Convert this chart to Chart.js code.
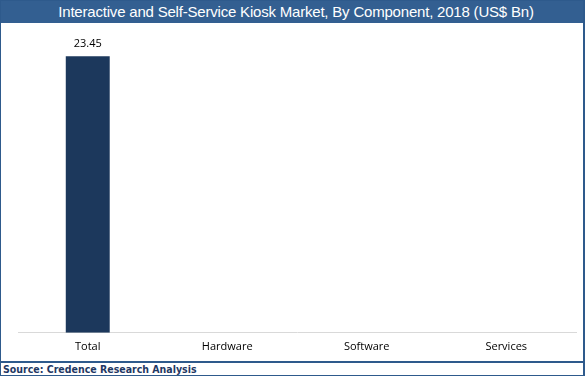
<!DOCTYPE html>
<html>
<head>
<meta charset="utf-8">
<script src="https://cdn.jsdelivr.net/npm/chart.js@4.4.1/dist/chart.umd.min.js"></script>
<style>
  body { margin: 0; background: #fff; }
  #frame { position: absolute; left: 0; top: 0; width: 585px; height: 376px; box-sizing: border-box; border: 1px solid #2E5A8C; border-right-width: 2px; }
  #title { height: 22px; background: #335F91; color: #fff; font: 15px "Liberation Sans", Arial, sans-serif; text-align: center; line-height: 22px; letter-spacing: -0.2px; padding-left: 8px; }
  #chartBox { position: relative; width: 582px; height: 338px; }
  #footer { border-top: 2px solid #2E5A8C; height: 12px; color: #1F3864; font: bold 10.5px "DejaVu Sans Condensed", "DejaVu Sans", sans-serif; line-height: 13px; padding-left: 2px; }
</style>
</head>
<body>
<div id="frame">
  <div id="title">Interactive and Self-Service Kiosk Market, By Component, 2018 (US$ Bn)</div>
  <div id="chartBox"><canvas id="kioskChart"></canvas></div>
  <div id="footer">Source: Credence Research Analysis</div>
</div>
<script>
const categories = ['Total', 'Hardware', 'Software', 'Services'];
const marketValues = [23.45, null, null, null];

const barLabels = {
    id: 'barLabels',
    afterDatasetsDraw(chart) {
        const { ctx } = chart;
        const meta = chart.getDatasetMeta(0);
        ctx.save();
        ctx.fillStyle = '#000';
        ctx.font = '11px "Open Sans", sans-serif';
        ctx.textAlign = 'center';
        ctx.textBaseline = 'bottom';
        meta.data.forEach((bar, i) => {
            const v = marketValues[i];
            if (v === null) return;
            ctx.fillText(v.toFixed(2), bar.x, bar.y - 7);
        });
        ctx.restore();
    }
};

const ctx = document.querySelector('#kioskChart').getContext('2d');
new Chart(ctx, {
    type: 'bar',
    data: {
        labels: categories,
        datasets: [{
            label: 'US$ Bn',
            data: marketValues,
            backgroundColor: '#1C385C',
            categoryPercentage: 0.315,
            barPercentage: 1
        }]
    },
    options: {
        responsive: true,
        maintainAspectRatio: false,
        animation: false,
        layout: { padding: { left: 17, right: 7, top: 15, bottom: 9 } },
        plugins: {
            legend: { display: false },
            tooltip: { enabled: false }
        },
        scales: {
            x: {
                grid: { display: false },
                border: { color: '#D9D9D9', width: 1 },
                ticks: { color: '#000', font: { family: 'Open Sans', size: 11 }, padding: -1 }
            },
            y: {
                display: false,
                min: 0,
                max: 25
            }
        }
    },
    plugins: [barLabels]
});
</script>
</body>
</html>
